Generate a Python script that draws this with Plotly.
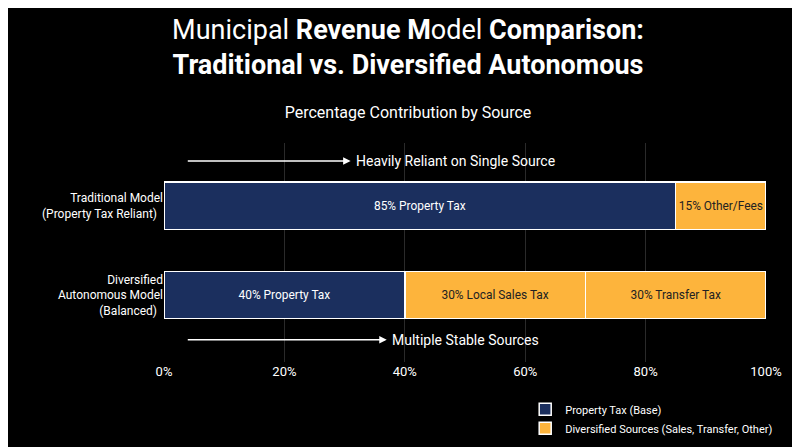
import plotly.graph_objects as go

categories = ["Diversified<br>Autonomous Model<br>(Balanced)", "Traditional Model<br>(Property Tax Reliant)"]
# segments per model: (value, label, kind)
segment_values = [[40, 30, 30], [85, 15]]
segment_labels = [["40% Property Tax", "30% Local Sales Tax", "30% Transfer Tax"],
                  ["85% Property Tax", "15% Other/Fees"]]
segment_kind = [["base", "div", "div"], ["base", "div"]]
x_ticks = [0, 20, 40, 60, 80, 100]

NAVY = "#1b2f5e"
ORANGE = "#fdb43c"
colors = {"base": NAVY, "div": ORANGE}
names = {"base": "Property Tax (Base)", "div": "Diversified Sources (Sales, Transfer, Other)"}

fig = go.Figure()
shown = set()
for ci, cat in enumerate(categories):
    for val, lab, kind in zip(segment_values[ci], segment_labels[ci], segment_kind[ci]):
        fig.add_trace(go.Bar(
            y=[cat], x=[val], orientation="h",
            marker=dict(color=colors[kind], line=dict(color="white", width=1.5)),
            text=[lab], textposition="inside", insidetextanchor="middle",
            textfont=dict(color="white" if kind == "base" else "#222222", size=14),
            name=names[kind], legendgroup=kind,
            showlegend=kind not in shown, width=0.53,
            hoverinfo="skip",
        ))
        shown.add(kind)

fig.add_annotation(x=31.0, y=1.5, ax=3.7, ay=1.5, xref="x", yref="y", axref="x", ayref="y",
                   text="", showarrow=True, arrowhead=2, arrowsize=1, arrowwidth=1.5, arrowcolor="white")
fig.add_annotation(x=31.6, y=1.5, xref="x", yref="y", text="Heavily Reliant on Single Source",
                   showarrow=False, xanchor="left", font=dict(color="white", size=14))
fig.add_annotation(x=37.0, y=-0.5, ax=3.7, ay=-0.5, xref="x", yref="y", axref="x", ayref="y",
                   text="", showarrow=True, arrowhead=2, arrowsize=1, arrowwidth=1.5, arrowcolor="white")
fig.add_annotation(x=37.6, y=-0.5, xref="x", yref="y", text="Multiple Stable Sources",
                   showarrow=False, xanchor="left", font=dict(color="white", size=14))

fig.update_layout(
    title=dict(
        text="Municipal <b>Revenue M</b>odel <b>Comparison:</b><br><b>Traditional vs. Diversified Autonomous</b>",
        x=0.5, xanchor="center", y=0.93, yanchor="top",
        font=dict(family="Roboto", size=27, color="white"),
        subtitle=dict(text="Percentage Contribution by Source", font=dict(size=16, color="white")),
    ),
    barmode="stack",
    paper_bgcolor="black", plot_bgcolor="black",
    font=dict(family="Roboto", color="white", size=12),
    width=800, height=447,
    margin=dict(l=156, r=42, t=135, b=85),
    xaxis=dict(range=[0, 100], tickvals=x_ticks, ticktext=[f"{t}%" for t in x_ticks],
               showgrid=True, gridcolor="#2a2a2a", zeroline=False, tickfont=dict(size=13),
               automargin=False),
    yaxis=dict(range=[-0.75, 1.7], showgrid=False, tickfont=dict(size=12), ticksuffix="  ",
               automargin=False),
    legend=dict(x=0.60, y=-0.15, xanchor="left", yanchor="top", bgcolor="rgba(0,0,0,0)",
                font=dict(size=11, color="white"), traceorder="normal"),
    uniformtext=dict(minsize=10, mode="show"),
)

fig.write_html("out.html")
